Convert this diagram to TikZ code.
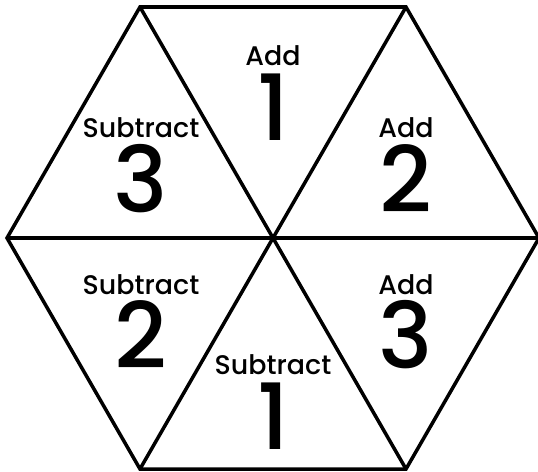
\documentclass[tikz,border=0pt]{standalone}
\usepackage{fontspec}
\setmainfont{Poppins}[UprightFont=* Medium]

\begin{document}
\begin{tikzpicture}[
  x=0.02cm, y=-0.02cm,
  edge/.style={line width=2pt, line join=miter},
  word/.style={anchor=base, inner sep=0pt, font=\fontsize{15.3}{15.3}\selectfont},
  digit/.style={anchor=base, inner sep=0pt, font=\fontsize{52}{52}\selectfont}
]
\useasboundingbox (0,0) rectangle (538,471);

%% ============ Hexagon corners ============
\coordinate (tl) at (140,7);
\coordinate (tr) at (406,7);
\coordinate (r)  at (539,238);
\coordinate (br) at (406,469);
\coordinate (bl) at (140,469);
\coordinate (l)  at (7,238);

\draw[edge] (tl) -- (tr) -- (r) -- (br) -- (bl) -- (l) -- cycle;
\draw[edge] (l) -- (r);
\draw[edge] (tl) -- (br);
\draw[edge] (tr) -- (bl);

%% ============ Upper half ============
\node[word]  (addonew)  at (273,65)  {Add};
\node[digit] (addone)   at (273,140) {1};
\node[word]  (subthrw)  at (141,137) {Subtract};
\node[digit] (subthr)   at (141,212) {3};
\node[word]  (addtwow)  at (406,137) {Add};
\node[digit] (addtwo)   at (406,212) {2};

%% ============ Lower half ============
\node[word]  (subtwow)  at (141,294) {Subtract};
\node[digit] (subtwo)   at (141,368) {2};
\node[word]  (addthrw)  at (406,294) {Add};
\node[digit] (addthr)   at (406,368) {3};
\node[word]  (subonew)  at (273,374) {Subtract};
\node[digit] (subone)   at (273,449) {1};

\end{tikzpicture}
\end{document}
